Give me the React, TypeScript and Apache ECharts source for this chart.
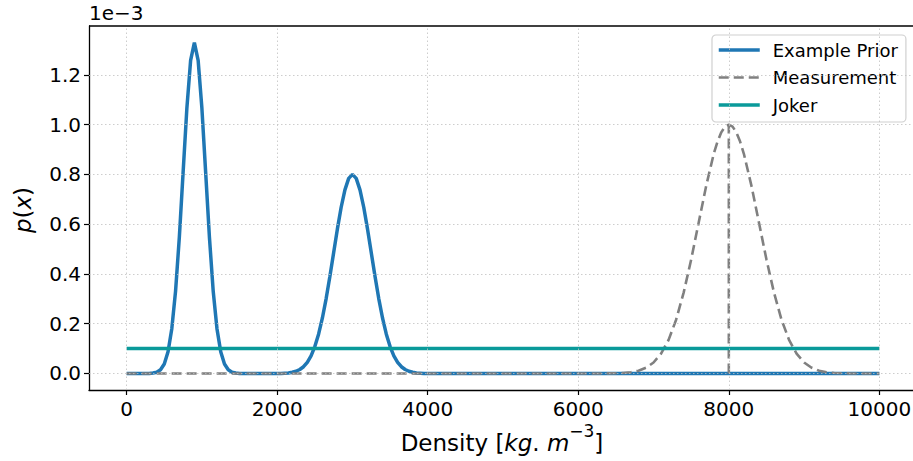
import React, { useEffect, useRef } from "react";
import * as echarts from "echarts";

// Density samples [kg.m^-3] and p(x) values in units of 1e-3
const priorPoints: [number, number][] = [
  [0, 0], [300, 0], [350, 0.002], [400, 0.005], [450, 0.015], [500, 0.038],
  [550, 0.087], [600, 0.18], [650, 0.331], [700, 0.547], [750, 0.807],
  [800, 1.065], [850, 1.258], [900, 1.33], [950, 1.258], [1000, 1.065],
  [1050, 0.807], [1100, 0.547], [1150, 0.331], [1200, 0.18], [1250, 0.087],
  [1300, 0.038], [1350, 0.015], [1400, 0.005], [1450, 0.002], [1500, 0],
  [2050, 0], [2100, 0.001], [2150, 0.002], [2200, 0.005], [2250, 0.009],
  [2300, 0.016], [2350, 0.027], [2400, 0.045], [2450, 0.071], [2500, 0.108],
  [2550, 0.158], [2600, 0.222], [2650, 0.3], [2700, 0.39], [2750, 0.485],
  [2800, 0.581], [2850, 0.668], [2900, 0.738], [2950, 0.784], [3000, 0.8],
  [3050, 0.784], [3100, 0.738], [3150, 0.668], [3200, 0.581], [3250, 0.485],
  [3300, 0.39], [3350, 0.3], [3400, 0.222], [3450, 0.158], [3500, 0.108],
  [3550, 0.071], [3600, 0.045], [3650, 0.027], [3700, 0.016], [3750, 0.009],
  [3800, 0.005], [3850, 0.002], [3900, 0.001], [3950, 0], [10000, 0],
];

const measurementPoints: [number, number][] = [
  [0, 0], [6300, 0], [6400, 0.0003], [6500, 0.001], [6600, 0.002],
  [6700, 0.005], [6800, 0.011], [6900, 0.023], [7000, 0.044], [7100, 0.08],
  [7200, 0.135], [7300, 0.216], [7400, 0.325], [7500, 0.458], [7600, 0.607],
  [7700, 0.755], [7800, 0.883], [7850, 0.932], [7900, 0.969], [7950, 0.992],
  [8000, 1.0], [8050, 0.992], [8100, 0.969], [8150, 0.932], [8200, 0.883],
  [8300, 0.755], [8400, 0.607], [8500, 0.458], [8600, 0.325], [8700, 0.216],
  [8800, 0.135], [8900, 0.08], [9000, 0.044], [9100, 0.023], [9200, 0.011],
  [9300, 0.005], [9400, 0.002], [9500, 0.001], [9600, 0.0003], [9700, 0],
  [10000, 0],
];

const measurementMarker: [number, number][] = [
  [8000, 0], [8000, 1.0],
];

const jokerPoints: [number, number][] = [
  [0, 0.1], [10000, 0.1],
];

const xTicks = [0, 2000, 4000, 6000, 8000, 10000];
const yTicks = [0, 0.2, 0.4, 0.6, 0.8, 1.0, 1.2];
const Y_MIN = -0.0665;
const Y_MAX = 1.3965;

const FONT = "DejaVu Sans";
const BLUE = "#1f77b4";
const GRAY = "#808080";
const TEAL = "#0a9a9a";

const GRID_LEFT = 89;
const GRID_TOP = 26;

export default function App() {
  const ref = useRef<HTMLDivElement>(null);
  useEffect(() => {
    if (!ref.current) return;
    const chart = echarts.init(ref.current, undefined, { renderer: "svg" });
    const gridStyle = { color: "#c0c0c0", type: [1.5, 2.5], width: 0.8 };
    const spine = { show: true, onZero: false, lineStyle: { color: "#000", width: 1.3 } };
    chart.setOption({
      animation: false,
      backgroundColor: "#ffffff",
      grid: {
        left: GRID_LEFT, top: GRID_TOP, width: 828, height: 364, show: false,
        outerBoundsMode: "none", containLabel: false,
      },
      xAxis: {
        type: "value", min: -500, max: 10500,
        axisLine: spine,
        axisTick: { show: true, length: 5, inside: false, customValues: xTicks, lineStyle: { color: "#000", width: 1.2 } },
        axisLabel: {
          customValues: xTicks, fontSize: 20, color: "#000", fontFamily: FONT, margin: 9,
          formatter: (v: number) => String(v),
        },
        splitLine: { show: false },
      },
      yAxis: {
        type: "value", min: Y_MIN, max: Y_MAX,
        axisLine: spine,
        axisTick: { show: true, length: 5, inside: false, customValues: yTicks, lineStyle: { color: "#000", width: 1.2 } },
        axisLabel: {
          customValues: yTicks, fontSize: 20, color: "#000", fontFamily: FONT, margin: 8,
          formatter: (v: number) => v.toFixed(1),
        },
        splitLine: { show: false },
      },
      legend: {
        orient: "vertical", left: 712, top: 35,
        data: [
          { name: "Example Prior", lineStyle: { width: 3.5 } },
          { name: "Measurement", lineStyle: { width: 2.6 } },
          { name: "Joker", lineStyle: { width: 3.5 } },
        ],
        itemWidth: 41, itemHeight: 20, itemGap: 9.5,
        padding: [6, 8, 8, 5],
        backgroundColor: "rgba(255,255,255,0.85)",
        borderColor: "#d0d0d0", borderWidth: 1.2, borderRadius: 4,
        itemStyle: { color: "transparent", borderWidth: 0, opacity: 0 },
        textStyle: { fontSize: 18, fontFamily: FONT, color: "#000", padding: [0, 0, 0, 8] },
      },
      graphic: [
        {
          type: "line", z: 50,
          shape: { x1: GRID_LEFT, y1: GRID_TOP, x2: 930, y2: GRID_TOP },
          style: { stroke: "#000", lineWidth: 1.3 },
        },
        { type: "text", left: 89, top: 3, style: { text: "1e\u22123", fontSize: 20, fontFamily: FONT, fill: "#000" } },
        {
          type: "text", x: 23, y: 210, rotation: Math.PI / 2,
          style: {
            text: "{i|p}{r|(}{i|x}{r|)}", align: "center", verticalAlign: "middle",
            rich: {
              i: { fontSize: 23, fontFamily: FONT, fontStyle: "italic", fill: "#000" },
              r: { fontSize: 23, fontFamily: FONT, fill: "#000" },
            },
          },
        },
        {
          type: "text", x: 502, y: 438,
          style: {
            text: "{r|Density [}{i|kg}{r|.}{i| m}{s|\u22123}{r|]}", align: "center", verticalAlign: "middle",
            rich: {
              r: { fontSize: 23, fontFamily: FONT, fill: "#000", lineHeight: 32, verticalAlign: "bottom" },
              i: { fontSize: 23, fontFamily: FONT, fontStyle: "italic", fill: "#000", lineHeight: 32, verticalAlign: "bottom" },
              s: { fontSize: 17, fontFamily: FONT, fill: "#000", lineHeight: 32, verticalAlign: "top" },
            },
          },
        },
      ],
      series: [
        {
          name: "gridlines", type: "line", data: [], z: 1, silent: true,
          markLine: {
            silent: true, symbol: "none", animation: false,
            label: { show: false }, lineStyle: gridStyle,
            data: [
              ...xTicks.map((v) => ({ xAxis: v })),
              ...yTicks.map((v) => ({ yAxis: v })),
            ],
          },
        },
        {
          name: "Example Prior", type: "line", data: priorPoints, showSymbol: false, symbol: "none",
          lineStyle: { color: BLUE, width: 3.5 }, itemStyle: { color: BLUE }, z: 2,
        },
        {
          name: "Measurement", type: "line", data: measurementPoints, showSymbol: false, symbol: "none",
          lineStyle: { color: GRAY, width: 2.6, type: [10, 5] }, itemStyle: { color: GRAY }, z: 3,
        },
        {
          name: "MeasurementMarker", type: "line", data: measurementMarker, showSymbol: false, symbol: "none",
          lineStyle: { color: GRAY, width: 2.6, type: [10, 5] }, itemStyle: { color: GRAY }, z: 3,
        },
        {
          name: "Joker", type: "line", data: jokerPoints, showSymbol: false, symbol: "none",
          lineStyle: { color: TEAL, width: 3.5 }, itemStyle: { color: TEAL }, z: 4,
        },
      ],
    });
    return () => chart.dispose();
  }, []);
  return (
    <div style={{ position: "fixed", left: 0, top: 0, width: 913, height: 461, overflow: "hidden", background: "#fff" }}>
      <div ref={ref} style={{ width: 930, height: 461 }} />
    </div>
  );
}
